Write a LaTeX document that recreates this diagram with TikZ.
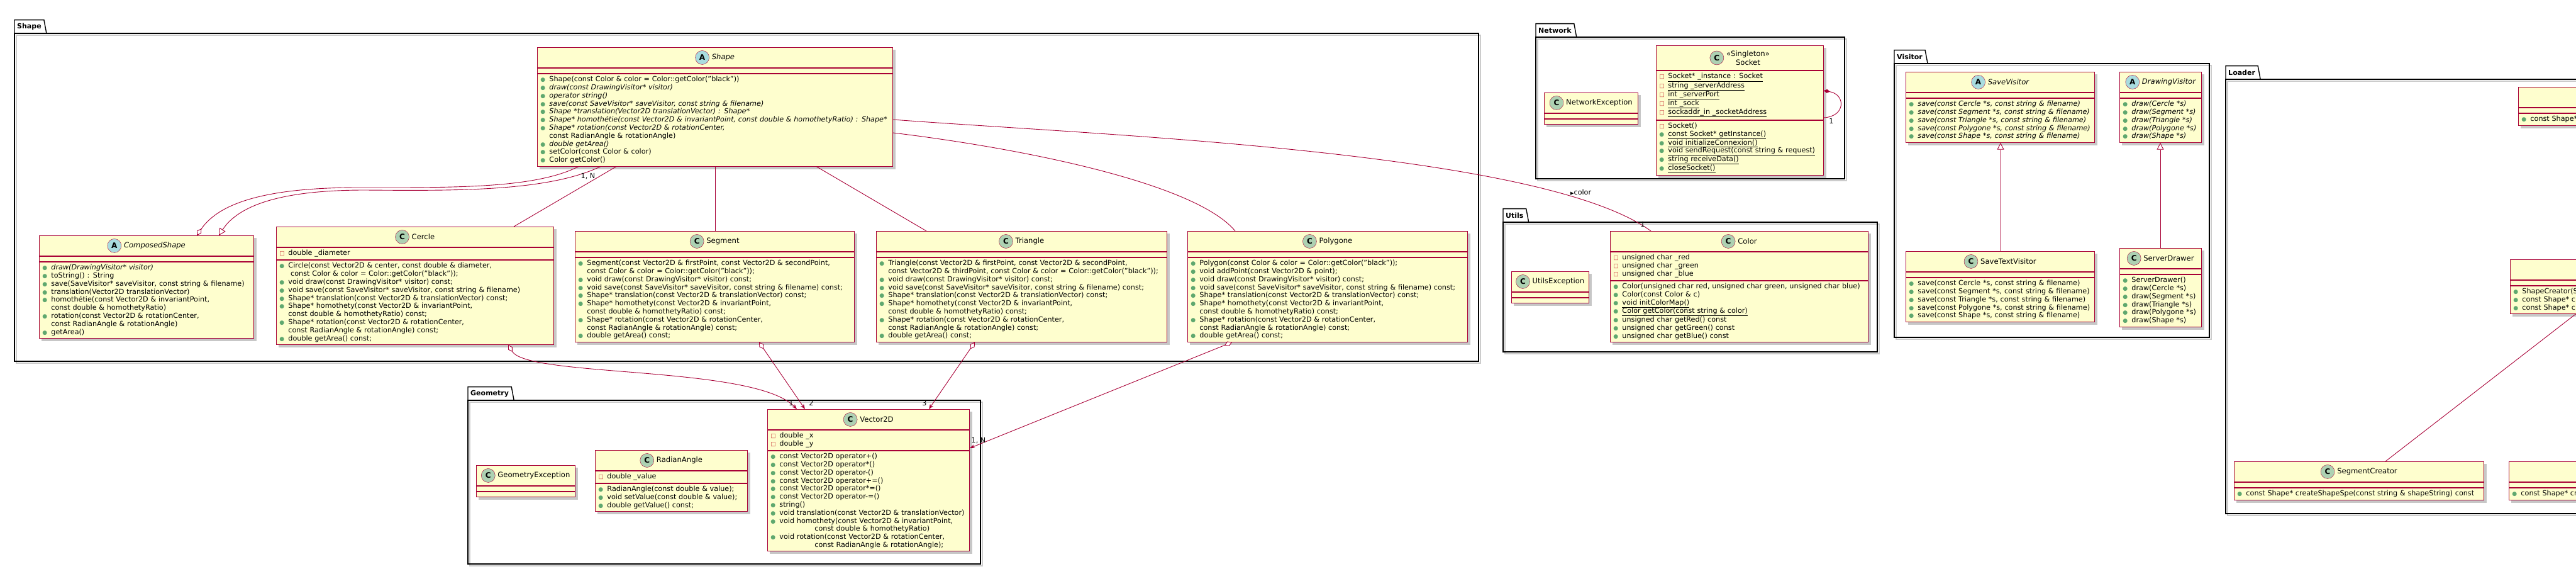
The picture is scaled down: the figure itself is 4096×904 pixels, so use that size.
\documentclass[tikz,border=0pt]{standalone}
\usepackage{fontspec}
\setmainfont{DejaVu Sans}
\usetikzlibrary{arrows.meta,backgrounds,positioning}

\definecolor{umlfill}{HTML}{FEFECE}
\definecolor{umlborder}{HTML}{A80036}
\definecolor{pubgreen}{HTML}{5FA86F}
\definecolor{privred}{HTML}{C82930}
\definecolor{badgec}{HTML}{ADD1B2}
\definecolor{badgea}{HTML}{A9DCDF}

\newcommand{\membersize}{\fontsize{11.2}{12.8}\selectfont}
\newcommand{\titlesize}{\fontsize{11.6}{13.5}\selectfont}
\newcommand{\pub}{\makebox[14pt][l]{\textcolor{pubgreen}{\fontsize{9}{9}\selectfont ●}}}
\newcommand{\priv}{\makebox[14pt][l]{\textcolor{privred}{\fontsize{9}{9}\selectfont □}}}
\newcommand{\cont}{\hspace*{14pt}}

% one class: name, top left, width, head height, badge, title, attributes, methods
\newcommand{\umlclass}[8]{%
  \node[classhead, minimum width=#3, minimum height=#4, anchor=north west] (#1) at #2 {};
  \node[titletext] (#1-t) at ([xshift=13pt]#1.center) {#6};
  \node[badge#5] at ([xshift=-15pt]#1-t.west) {#5};
  \node[classpart, text width=#3-10pt, anchor=north west] (#1-a) at (#1.south west) {#7};
  \node[classpart, text width=#3-10pt, anchor=north west] (#1-m) at (#1-a.south west) {#8};
  \begin{scope}[on background layer]
    \fill[boxshadow] ([shift={(4,4)}]#1.north west) rectangle ([shift={(4,4)}]#1-m.south east);
  \end{scope}
}

% one package: name, tab corner, far corner, label
\newcommand{\umlpackage}[6]{%
  \node[pkgname, anchor=south west] (#1) at (#2,#3) {#6};
  \draw[pkgframe] (#1.south west) |- (#1.north east) -- ([xshift=4pt]#1.south east);
  \draw[pkgframe] (#1.south west) rectangle (#4,#5);
  \begin{scope}[on background layer]
    \draw[pkgshadow] ([shift={(3,3)}]#1.south west) rectangle (#4+3,#5+3);
  \end{scope}
}

\begin{document}
\begin{tikzpicture}[
        x=1pt, y=-1pt,
        classhead/.style={rectangle, draw=umlborder, fill=umlfill, line width=0.9pt, inner sep=0pt},
        classpart/.style={rectangle, draw=umlborder, fill=umlfill, line width=0.9pt,
            inner xsep=5pt, inner ysep=4pt, align=left, font=\membersize},
        titletext/.style={inner sep=0pt, align=center, font=\titlesize},
        badgeA/.style={circle, draw=umlborder, fill=badgea, minimum size=22pt, inner sep=0pt,
            font=\bfseries\fontsize{12}{12}\selectfont},
        badgeC/.style={circle, draw=umlborder, fill=badgec, minimum size=22pt, inner sep=0pt,
            font=\bfseries\fontsize{12}{12}\selectfont},
        boxshadow/.style={fill=black!22},
        pkgname/.style={inner xsep=4pt, inner ysep=0pt, minimum height=21pt,
            font=\bfseries\fontsize{11}{13}\selectfont},
        pkgframe/.style={draw=black, line width=1.4pt},
        pkgshadow/.style={draw=black!20, line width=2pt},
        assoc/.style={draw=umlborder, line width=0.9pt},
        inherit/.style={assoc, -{Triangle[length=11pt, width=11pt, fill=white]}},
        aggr/.style={assoc, {Diamond[length=13pt, width=8pt, fill=white]}-},
        aggrnav/.style={assoc, {Diamond[length=13pt, width=8pt, fill=white]}-{Stealth[length=8pt, width=6pt]}},
        mult/.style={inner sep=1pt, font=\membersize}
    ]
    \useasboundingbox (0,0) rectangle (4096,904);

    % packages
    \umlpackage{shapepkg}{23}{53}{2351}{574}{Shape}
    \umlpackage{netpkg}{2442}{59}{2933}{284}{Network}
    \umlpackage{utilspkg}{2390}{353}{2985}{559}{Utils}
    \umlpackage{visitorpkg}{3012}{101}{3513}{536}{Visitor}
    \umlpackage{loaderpkg}{3539}{126}{4300}{816}{Loader}
    \umlpackage{geopkg}{744}{636}{1559}{896}{Geometry}

    % Shape
    \umlclass{shape}{(854,75)}{565pt}{32pt}{A}{\itshape Shape}{}{%
        \pub Shape(const Color \& color = Color::getColor("black"))\\
        \pub{\itshape draw(const DrawingVisitor* visitor)}\\
        \pub{\itshape operator string()}\\
        \pub{\itshape save(const SaveVisitor* saveVisitor, const string \& filename)}\\
        \pub{\itshape Shape *translation(Vector2D translationVector) : Shape*}\\
        \pub{\itshape Shape* homothétie(const Vector2D \& invariantPoint, const double \& homothetyRatio) : Shape*}\\
        \pub{\itshape Shape* rotation(const Vector2D \& rotationCenter,}\\
        \cont const RadianAngle \& rotationAngle)\\
        \pub{\itshape double getArea()}\\
        \pub setColor(const Color \& color)\\
        \pub Color getColor()}
    \umlclass{composed}{(62,374)}{341pt}{32pt}{A}{\itshape ComposedShape}{}{%
        \pub{\itshape draw(DrawingVisitor* visitor)}\\
        \pub toString() : String\\
        \pub save(SaveVisitor* saveVisitor, const string \& filename)\\
        \pub translation(Vector2D translationVector)\\
        \pub homothétie(const Vector2D \& invariantPoint,\\
        \cont const double \& homothetyRatio)\\
        \pub rotation(const Vector2D \& rotationCenter,\\
        \cont const RadianAngle \& rotationAngle)\\
        \pub getArea()}
    \umlclass{cercle}{(439,360)}{441pt}{32pt}{C}{Cercle}{\priv double \_diameter}{%
        \pub Circle(const Vector2D \& center, const double \& diameter,\\
        \cont\ const Color \& color = Color::getColor("black"));\\
        \pub void draw(const DrawingVisitor* visitor) const;\\
        \pub void save(const SaveVisitor* saveVisitor, const string \& filename)\\
        \pub Shape* translation(const Vector2D \& translationVector) const;\\
        \pub Shape* homothety(const Vector2D \& invariantPoint,\\
        \cont const double \& homothetyRatio) const;\\
        \pub Shape* rotation(const Vector2D \& rotationCenter,\\
        \cont const RadianAngle \& rotationAngle) const;\\
        \pub double getArea() const;}
    \umlclass{segment}{(914,367)}{444pt}{32pt}{C}{Segment}{}{%
        \pub Segment(const Vector2D \& firstPoint, const Vector2D \& secondPoint,\\
        \cont const Color \& color = Color::getColor("black"));\\
        \pub void draw(const DrawingVisitor* visitor) const;\\
        \pub void save(const SaveVisitor* saveVisitor, const string \& filename) const;\\
        \pub Shape* translation(const Vector2D \& translationVector) const;\\
        \pub Shape* homothety(const Vector2D \& invariantPoint,\\
        \cont const double \& homothetyRatio) const;\\
        \pub Shape* rotation(const Vector2D \& rotationCenter,\\
        \cont const RadianAngle \& rotationAngle) const;\\
        \pub double getArea() const;}
    \umlclass{triangle}{(1393,367)}{462pt}{32pt}{C}{Triangle}{}{%
        \pub Triangle(const Vector2D \& firstPoint, const Vector2D \& secondPoint,\\
        \cont const Vector2D \& thirdPoint, const Color \& color = Color::getColor("black"));\\
        \pub void draw(const DrawingVisitor* visitor) const;\\
        \pub void save(const SaveVisitor* saveVisitor, const string \& filename) const;\\
        \pub Shape* translation(const Vector2D \& translationVector) const;\\
        \pub Shape* homothety(const Vector2D \& invariantPoint,\\
        \cont const double \& homothetyRatio) const;\\
        \pub Shape* rotation(const Vector2D \& rotationCenter,\\
        \cont const RadianAngle \& rotationAngle) const;\\
        \pub double getArea() const;}
    \umlclass{polygone}{(1888,367)}{445pt}{32pt}{C}{Polygone}{}{%
        \pub Polygon(const Color \& color = Color::getColor("black"));\\
        \pub void addPoint(const Vector2D \& point);\\
        \pub void draw(const DrawingVisitor* visitor) const;\\
        \pub void save(const SaveVisitor* saveVisitor, const string \& filename) const;\\
        \pub Shape* translation(const Vector2D \& translationVector) const;\\
        \pub Shape* homothety(const Vector2D \& invariantPoint,\\
        \cont const double \& homothetyRatio) const;\\
        \pub Shape* rotation(const Vector2D \& rotationCenter,\\
        \cont const RadianAngle \& rotationAngle) const;\\
        \pub double getArea() const;}

    % Network
    \umlclass{netexc}{(2455,147)}{149pt}{32pt}{C}{NetworkException}{}{}
    \umlclass{socket}{(2633,72)}{266pt}{39pt}{C}{«Singleton»\\Socket}{%
        \priv\underline{Socket* \_instance : Socket}\\
        \priv\underline{string \_serverAddress}\\
        \priv\underline{int \_serverPort}\\
        \priv\underline{int \_sock}\\
        \priv\underline{sockaddr\_in \_socketAddress}}{%
        \priv Socket()\\
        \pub\underline{const Socket* getInstance()}\\
        \pub\underline{void initializeConnexion()}\\
        \pub\underline{void sendRequest(const string \& request)}\\
        \pub\underline{string receiveData()}\\
        \pub\underline{closeSocket()}}

    % Utils
    \umlclass{utilsexc}{(2403,431)}{123pt}{32pt}{C}{UtilsException}{}{}
    \umlclass{color}{(2560,367)}{410pt}{32pt}{C}{Color}{%
        \priv unsigned char \_red\\
        \priv unsigned char \_green\\
        \priv unsigned char \_blue}{%
        \pub Color(unsigned char red, unsigned char green, unsigned char blue)\\
        \pub Color(const Color \& c)\\
        \pub\underline{void initColorMap()}\\
        \pub\underline{Color getColor(const string \& color)}\\
        \pub unsigned char getRed() const\\
        \pub unsigned char getGreen() const\\
        \pub unsigned char getBlue() const}

    % Visitor
    \umlclass{savevisitor}{(3030,114)}{300pt}{32pt}{A}{\itshape SaveVisitor}{}{\itshape
        \pub save(const Cercle *s, const string \& filename)\\
        \pub save(const Segment *s, const string \& filename)\\
        \pub save(const Triangle *s, const string \& filename)\\
        \pub save(const Polygone *s, const string \& filename)\\
        \pub save(const Shape *s, const string \& filename)}
    \umlclass{drawvisitor}{(3370,114)}{130pt}{32pt}{A}{\itshape DrawingVisitor}{}{\itshape
        \pub draw(Cercle *s)\\
        \pub draw(Segment *s)\\
        \pub draw(Triangle *s)\\
        \pub draw(Polygone *s)\\
        \pub draw(Shape *s)}
    \umlclass{savetext}{(3030,399)}{300pt}{32pt}{C}{SaveTextVisitor}{}{%
        \pub save(const Cercle *s, const string \& filename)\\
        \pub save(const Segment *s, const string \& filename)\\
        \pub save(const Triangle *s, const string \& filename)\\
        \pub save(const Polygone *s, const string \& filename)\\
        \pub save(const Shape *s, const string \& filename)}
    \umlclass{serverdrawer}{(3370,394)}{130pt}{32pt}{C}{ServerDrawer}{}{%
        \pub ServerDrawer()\\
        \pub draw(Cercle *s)\\
        \pub draw(Segment *s)\\
        \pub draw(Triangle *s)\\
        \pub draw(Polygone *s)\\
        \pub draw(Shape *s)}

    % Loader
    \umlclass{shapeloader}{(4004,138)}{420pt}{32pt}{C}{ShapeLoader}{}{%
        \pub const Shape* load(const string \& filename) const}
    \umlclass{shapecreator}{(3991,412)}{420pt}{32pt}{A}{\itshape ShapeCreator}{}{%
        \pub ShapeCreator(ShapeCreator* next)\\
        \pub const Shape* createShape(const string \& shapeString) const\\
        \pub const Shape* create(const string \& shapeString) const}
    \umlclass{segcreator}{(3552,733)}{397pt}{32pt}{C}{SegmentCreator}{}{%
        \pub const Shape* createShapeSpe(const string \& shapeString) const}
    \umlclass{circlecreator}{(3989,733)}{397pt}{32pt}{C}{CercleCreator}{}{%
        \pub const Shape* createShapeSpe(const string \& shapeString) const}

    % Geometry
    \umlclass{geoexc}{(757,739)}{157pt}{32pt}{C}{GeometryException}{}{}
    \umlclass{radian}{(946,715)}{242pt}{32pt}{C}{RadianAngle}{\priv double \_value}{%
        \pub RadianAngle(const double \& value);\\
        \pub void setValue(const double \& value);\\
        \pub double getValue() const;}
    \umlclass{vector}{(1220,650)}{321pt}{32pt}{C}{Vector2D}{%
        \priv double \_x\\
        \priv double \_y}{%
        \pub const Vector2D operator+()\\
        \pub const Vector2D operator*()\\
        \pub const Vector2D operator-()\\
        \pub const Vector2D operator+=()\\
        \pub const Vector2D operator*=()\\
        \pub const Vector2D operator-=()\\
        \pub string()\\
        \pub void translation(const Vector2D \& translationVector)\\
        \pub void homothety(const Vector2D \& invariantPoint,\\
        \hspace*{70pt}const double \& homothetyRatio)\\
        \pub void rotation(const Vector2D \& rotationCenter,\\
        \hspace*{70pt}const RadianAngle \& rotationAngle);}

    % links inside Shape
    \draw[aggr] ([xshift=251pt]composed.north west) .. controls (350,320) and (430,298) .. (570,298)
        .. controls (720,298) and (850,300) .. ([xshift=66pt]shape-m.south west);
    \draw[inherit] ([xshift=101pt]shape-m.south west) .. controls (870,305) and (720,303) .. (580,302)
        .. controls (450,302) and (380,325) .. ([xshift=286pt]composed.north west);
    \node[mult] at (935,280) {1, N};
    \draw[assoc] ([xshift=378pt]cercle.north west) -- ([xshift=126pt]shape-m.south west);
    \draw[assoc] ([xshift=223pt]segment.north west) -- ([xshift=283pt]shape-m.south west);
    \draw[assoc] ([xshift=80pt]triangle.north west) -- ([xshift=444pt]shape-m.south west);
    \draw[assoc] ([yshift=-136pt]shape.north east) .. controls (1620,235) and (1900,290)
        .. ([xshift=76pt]polygone.north west);

    % Shape to Color
    \draw[assoc] ([yshift=-115pt]shape.north east) .. controls (1750,215) and (2450,240)
        .. ([xshift=65pt]color.north west);
    \node[mult, anchor=west] at (2496,306) {{\fontsize{7}{7}\selectfont ▶}color};
    \node[mult] at (2612,356) {1};

    % Socket instance
    \draw[assoc, {Diamond[length=10pt, width=6pt]}-] ([yshift=-72pt]socket.north east)
        .. controls (2935,150) and (2935,185) .. ([yshift=-115pt]socket.north east);
    \node[mult] at (2912,192) {1};

    % visitors
    \draw[inherit] ([xshift=151pt]savetext.north west) -- ([xshift=151pt]savevisitor-m.south west);
    \draw[inherit] ([xshift=65pt]serverdrawer.north west) -- ([xshift=65pt]drawvisitor-m.south west);

    % Loader
    \coordinate (loaderout) at (4120,480);
    \draw[assoc] ([xshift=241pt]segcreator.north west) -- (loaderout);

    % links to Vector2D
    \draw[aggrnav] ([xshift=369pt]cercle-m.south west) .. controls (840,600) and (1200,580)
        .. ([xshift=47pt]vector.north west);
    \node[mult] at (1258,640) {1};
    \draw[aggrnav] ([xshift=293pt]segment-m.south west) -- ([xshift=60pt]vector.north west);
    \node[mult] at (1290,640) {2};
    \draw[aggrnav] ([xshift=157pt]triangle-m.south west) -- ([xshift=257pt]vector.north west);
    \node[mult] at (1470,640) {3};
    \draw[aggrnav] ([xshift=71pt]polygone-m.south west) -- ([yshift=-62pt]vector.north east);
    \node[mult] at (1556,700) {1, N};
\end{tikzpicture}
\end{document}
